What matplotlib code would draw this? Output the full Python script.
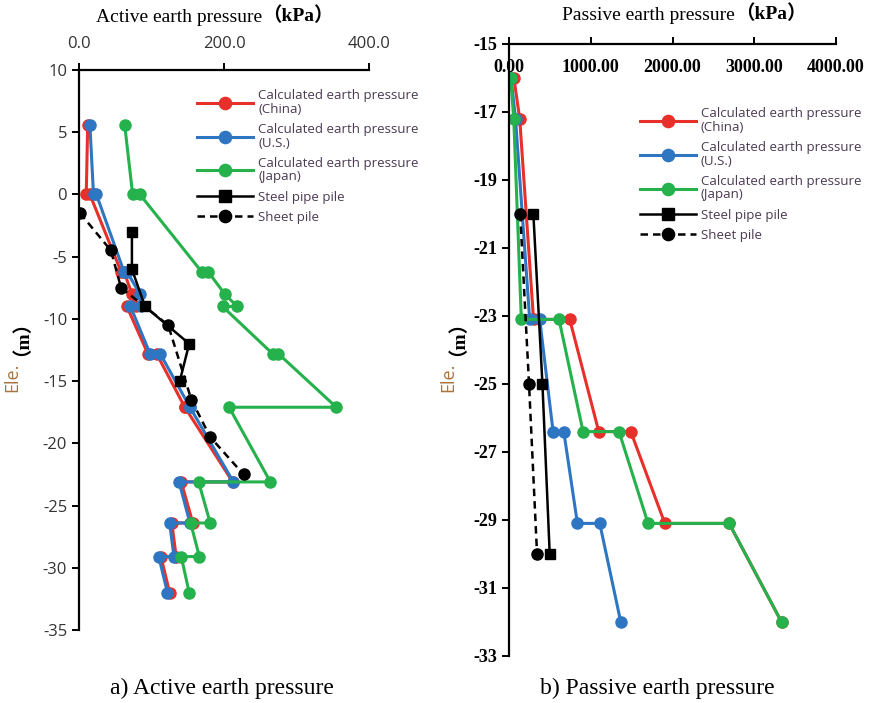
import matplotlib
matplotlib.use("Agg")
import matplotlib.pyplot as plt

plt.rcParams["axes.unicode_minus"] = False

# active earth pressure (left panel)
act_elev = [5.6, 0, 0, -6.2, -6.2, -8, -9, -9, -12.8, -12.8, -17.1, -17.1,
            -23.1, -23.1, -26.4, -26.4, -29.1, -29.1, -32]
act_china = [12, 10, 15, 58, 62, 73, 78, 66, 95, 107, 146, 146,
             212, 141, 157, 128, 134, 113, 125]
act_us = [15, 20, 24, 62, 66, 84, 86, 71, 98, 112, 153, 153,
          213, 138, 153, 125, 131, 110, 122]
act_japan = [63, 74, 84, 169, 178, 201, 218, 198, 267, 275, 355, 207,
             264, 165, 181, 154, 166, 141, 152]
act_steel_elev = [-3, -6, -9, -12, -15]
act_steel = [73, 73, 91, 152, 139]
act_sheet_elev = [-1.5, -4.5, -7.5, -10.5, -16.5, -19.5, -22.5]
act_sheet = [1.4, 44, 58, 123, 155, 181, 227]

# passive earth pressure (right panel)
pas_elev = [-16, -17.2, -23.1, -23.1, -26.4, -26.4, -29.1, -29.1, -32]
pas_china = [60, 131, 300, 743, 1098, 1490, 1906, 2693, 3334]
pas_us = [25, 80, 253, 376, 539, 670, 837, 1110, 1367]
pas_japan = [21, 58, 151, 612, 906, 1346, 1701, 2693, 3334]
pas_pile_elev = [-20, -25, -30]
pas_steel = [298, 409, 498]
pas_sheet = [137, 245, 343]

labels = ["Calculated earth pressure\n(China)",
          "Calculated earth pressure\n(U.S.)",
          "Calculated earth pressure\n(Japan)",
          "Steel pipe pile", "Sheet pile"]

RED, BLUE, GREEN = "#e8302a", "#2f76c2", "#25b14b"
SERIF = ["Liberation Serif", "Noto Sans CJK SC"]
SANS = "Open Sans"

fig = plt.figure(figsize=(8.73, 7.03), dpi=100)
W, H = 873, 703


def px_axes(l, t, r, b):
    return fig.add_axes([l / W, 1 - b / H, (r - l) / W, (b - t) / H])


def draw(ax, elev, china, us, japan, pelev1, steel, pelev2, sheet):
    ms = 8
    ax.plot(china, elev, "-o", color=RED, lw=2.2, ms=ms, label=labels[0])
    ax.plot(us, elev, "-o", color=BLUE, lw=2.2, ms=ms, label=labels[1])
    ax.plot(japan, elev, "-o", color=GREEN, lw=2.2, ms=ms, label=labels[2])
    ax.plot(steel, pelev1, "-s", color="black", lw=1.8, ms=7.5, label=labels[3])
    ax.plot(sheet, pelev2, "o", color="black", ls=(0, (3, 2)), lw=1.8, ms=8,
            label=labels[4])
    for s in ("right", "bottom"):
        ax.spines[s].set_visible(False)
    for s in ("left", "top"):
        ax.spines[s].set_linewidth(1.6)
    ax.xaxis.tick_top()
    ax.tick_params(length=5, width=1.4)


def add_legend(ax, anchor):
    leg = ax.legend(loc="upper left", bbox_to_anchor=anchor, frameon=False,
                    prop={"family": SANS, "size": 9.5}, labelcolor="#4a3a52",
                    handlelength=4.2, handletextpad=0.4, labelspacing=0.55,
                    borderaxespad=0.0, markerscale=1.1)
    for t in leg.get_texts():
        t.set_linespacing(1.05)
    return leg


# left panel
ax1 = px_axes(79, 70, 369, 630)
draw(ax1, act_elev, act_china, act_us, act_japan,
     act_steel_elev, act_steel, act_sheet_elev, act_sheet)
ax1.set_xlim(0, 400)
ax1.set_ylim(-35, 10)
ax1.set_xticks([0, 200, 400], ["0.0", "200.0", "400.0"])
ax1.set_yticks(range(-35, 11, 5))
ax1.tick_params(axis="x", pad=8)
for t in ax1.get_xticklabels() + ax1.get_yticklabels():
    t.set_fontfamily(SANS)
    t.set_fontsize(12)
    t.set_color("#333333")
add_legend(ax1, (0.39, 0.975))

# right panel
ax2 = px_axes(509, 44, 836, 656)
draw(ax2, pas_elev, pas_china, pas_us, pas_japan,
     pas_pile_elev, pas_steel, pas_pile_elev, pas_sheet)
ax2.set_xlim(0, 4000)
ax2.set_ylim(-33, -15)
ax2.set_xticks(range(0, 4001, 1000),
               ["0.00", "1000.00", "2000.00", "3000.00", "4000.00"])
ax2.set_yticks(range(-33, -14, 2))
ax2.tick_params(axis="x", pad=-28)
for t in ax2.get_xticklabels() + ax2.get_yticklabels():
    t.set_fontfamily("Liberation Serif")
    t.set_fontweight("bold")
    t.set_fontsize(13)
add_legend(ax2, (0.385, 0.905))

# titles with bold unit
for cx, cy, name in [(218, 17, "Active earth pressure"),
                     (688, 15, "Passive earth pressure")]:
    t1 = fig.text(cx / W - 0.045, 1 - cy / H, name, ha="center", va="center",
                  family=SERIF, fontsize=14)
    plt.annotate("（kPa）", xy=(1, 0), xycoords=t1, va="bottom", ha="left",
                 family=SERIF, fontsize=14, fontweight="bold")

# y labels: "Ele." plus bold "(m)"
for cx in (12, 448):
    fig.text(cx / W, 1 - 377 / H, "Ele.", rotation=90, ha="center",
             va="center", family=SANS, fontsize=13, color="#a8743e")
    fig.text(cx / W, 1 - 328 / H, "（m）", rotation=90, ha="center",
             va="center", family=SERIF, fontsize=14, fontweight="bold")

fig.text(222 / W, 1 - 688 / H, "a) Active earth pressure", ha="center",
         va="center", family="Liberation Serif", fontsize=17)
fig.text(657 / W, 1 - 688 / H, "b) Passive earth pressure", ha="center",
         va="center", family="Liberation Serif", fontsize=17)

fig.savefig("out.png", dpi=100)
